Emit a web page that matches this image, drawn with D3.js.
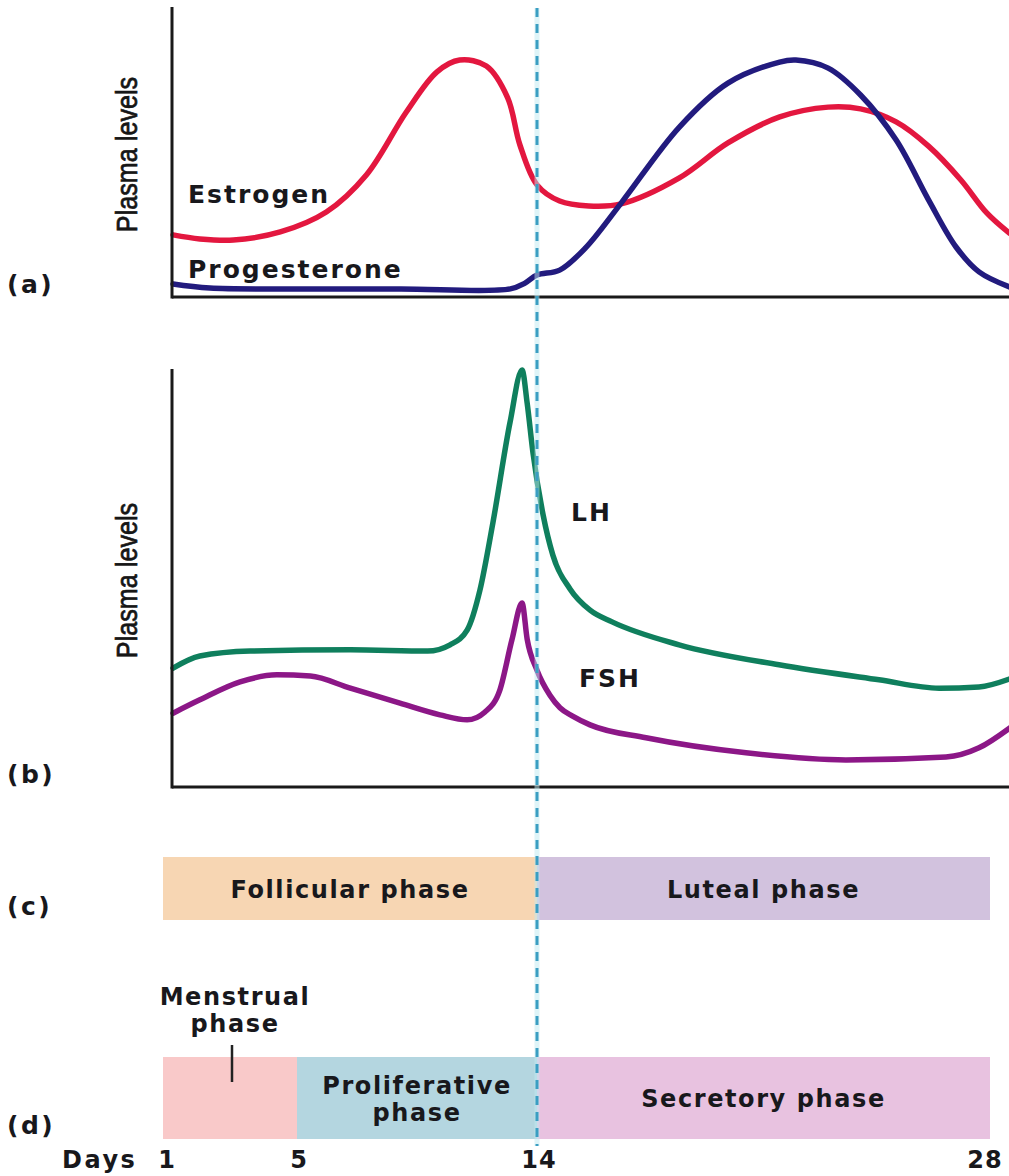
<!DOCTYPE html>
<html>
<head>
<meta charset="utf-8">
<script src="https://cdn.jsdelivr.net/npm/d3@7"></script>
<style>
	body { margin: 0; background: #fff; }
	svg { display: block; }
</style>
</head>
<body>
<div id="d3"></div>
<script>

// day ticks along the bottom
const dayTicks = [1, 5, 14, 28];
const ovulationDay = 14;

// panel (a): ovarian hormones, [day, relative level 0-100]
const estrogen = [
	[1.3, 21.5], [2.1, 20.1], [3.1, 19.7], [4.5, 22.5], [6.1, 29.4], [7.6, 42.2],
	[9.1, 64.0], [10.25, 77.9], [11.1, 82.0], [12.1, 79.9], [12.9, 68.9], [13.36, 52.6],
	[14.0, 38.8], [14.7, 33.2], [15.6, 31.5], [16.6, 32.2], [18.4, 41.2], [19.9, 53.3],
	[21.5, 62.3], [23.0, 65.7], [24.0, 65.1], [25.1, 60.6], [26.1, 52.2], [27.1, 40.5],
	[27.9, 29.1], [28.6, 22.1]
];
const progesterone = [
	[1.3, 4.5], [2.4, 3.1], [5.1, 2.8], [8.9, 2.8], [13.0, 2.8], [13.55, 4.8],
	[14.0, 7.6], [14.7, 9.3], [15.5, 17.0], [16.6, 32.5], [18.4, 58.8], [19.9, 74.0],
	[21.5, 81.3], [22.0, 82.0], [23.0, 79.2], [24.0, 69.9], [25.1, 54.3], [26.1, 33.6],
	[26.95, 17.3], [27.66, 8.7], [28.6, 3.5]
];

// panel (b): pituitary hormones
const lh = [
	[1.3, 28.5], [2.1, 31.4], [3.6, 32.6], [7.0, 32.9], [9.9, 32.6], [10.74, 34.1],
	[11.38, 37.6], [11.86, 47.2], [12.35, 63.5], [12.99, 87.5], [13.44, 100], [13.63, 92.1],
	[13.85, 80.1], [14.19, 65.2], [14.49, 55.6], [15.02, 47.5], [15.64, 42.4], [16.32, 39.6],
	[18.39, 34.1], [21.48, 29.3], [24.57, 25.7], [26.43, 23.7], [27.66, 24.0], [28.6, 25.9]
];
const fsh = [
	[1.3, 17.7], [2.1, 20.9], [3.3, 25.2], [4.4, 26.9], [5.5, 26.6], [7.0, 23.7],
	[8.86, 20.1], [10.36, 17.3], [11.38, 16.1], [12.05, 18.0], [12.61, 23.3], [13.06, 35.3],
	[13.44, 44.1], [13.63, 35.5], [14.0, 28.0], [14.4, 22.0], [14.71, 19.0], [15.1, 17.0],
	[15.64, 14.9], [17.37, 11.8], [20.46, 8.2], [23.55, 6.5], [26.64, 7.2], [27.66, 9.4],
	[28.6, 14.1]
];

// panels (c) and (d): phase bands
const ovarianPhases = [
	{ name: ["Follicular phase"], start: 1, end: 14 },
	{ name: ["Luteal phase"], start: 14, end: 28 }
];
const uterinePhases = [
	{ name: [], start: 1, end: 5 },
	{ name: ["Proliferative", "phase"], start: 5, end: 14 },
	{ name: ["Secretory phase"], start: 14, end: 28 }
];
const menstrualLabel = ["Menstrual", "phase"];
const menstrualDay = 3;

plot(1009, 1176);

function plot(width, height)
{
	"use strict";

	let svg = d3.select("#d3").append("svg")
		.attr("width", width)
		.attr("height", height);

	let boldFont = "'DejaVu Sans', sans-serif";
	let ink = "#18181c";

	// the day axis is not evenly spaced in the figure
	let x = d3.scaleLinear()
		.domain(dayTicks)
		.range([163, 297, 537, 990]);

	let yA = d3.scaleLinear().domain([0, 100]).range([297, 8]);
	let yB = d3.scaleLinear().domain([0, 100]).range([787, 370]);

	let axisLeft = 172;

	let ovarianColor = d3.scaleOrdinal()
		.domain(ovarianPhases.map(function(d) { return d.start; }))
		.range(["#f7d6b3", "#d2c2de"]);
	let uterineColor = d3.scaleOrdinal()
		.domain(uterinePhases.map(function(d) { return d.start; }))
		.range(["#f9c9c9", "#b4d6e0", "#e8c2e0"]);

	/////////////////////////////////////////////////////////////////////////////////
	// line panels

	function linePanel(y, series, label, curve) {
		let g = svg.append("g");

		let line = d3.line()
			.x(function(d) { return x(d[0]); })
			.y(function(d) { return y(d[1]); })
			.curve(curve);

		g.selectAll("path.series")
			.data(series)
			.enter()
			.append("path")
			.attr("class", "series")
			.attr("d", function(d) { return line(d.values); })
			.attr("fill", "none")
			.attr("stroke", function(d) { return d.color; })
			.attr("stroke-width", 5.5)
			.attr("stroke-linejoin", "round")
			.attr("stroke-linecap", "round");

		// axes are bare lines, no ticks
		g.append("line")
			.attr("x1", axisLeft).attr("x2", axisLeft)
			.attr("y1", y(100) - 1).attr("y2", y(0) + 1.5)
			.attr("stroke", "#1a1a1a")
			.attr("stroke-width", 3);
		g.append("line")
			.attr("x1", axisLeft).attr("x2", width)
			.attr("y1", y(0)).attr("y2", y(0))
			.attr("stroke", "#1a1a1a")
			.attr("stroke-width", 3);

		// rotated, condensed y label
		let mid = (y(0) + y(100)) / 2;
		g.append("text")
			.attr("transform", "translate(137," + (mid + 2) + ") rotate(-90) scale(0.84,1)")
			.style("text-anchor", "middle")
			.style("font-family", "'Liberation Sans', Arial, sans-serif")
			.style("font-size", "30px")
			.style("fill", "#161616")
			.style("stroke", "#161616")
			.style("stroke-width", 0.7)
			.text("Plasma levels");

		g.append("text")
			.attr("x", 7)
			.attr("y", y(0) - 4)
			.style("font-family", boldFont)
			.style("font-weight", "bold")
			.style("font-size", "25px")
			.style("letter-spacing", "2.5px")
			.style("fill", ink)
			.text(label);

		return g;
	}

	let panelA = linePanel(yA, [
		{ values: estrogen, color: "#e3173f" },
		{ values: progesterone, color: "#221b7e" }
	], "(a)", d3.curveCatmullRom.alpha(0.5));

	let panelB = linePanel(yB, [
		{ values: lh, color: "#0f7f5d" },
		{ values: fsh, color: "#8c1787" }
	], "(b)", d3.curveMonotoneX);

	function seriesLabel(g, px, py, txt) {
		g.append("text")
			.attr("x", px)
			.attr("y", py)
			.style("font-family", boldFont)
			.style("font-weight", "bold")
			.style("font-size", "25px")
			.style("letter-spacing", "2px")
			.style("fill", ink)
			.text(txt);
	}
	seriesLabel(panelA, 188, 203, "Estrogen");
	seriesLabel(panelA, 188, 278, "Progesterone");
	seriesLabel(panelB, 571, 521, "LH");
	seriesLabel(panelB, 579, 687, "FSH");

	/////////////////////////////////////////////////////////////////////////////////
	// phase bands

	let phaseStyle = function(sel) {
		sel.style("text-anchor", "middle")
			.style("font-family", boldFont)
			.style("font-weight", "bold")
			.style("font-size", "24px")
			.style("letter-spacing", "1.6px")
			.style("fill", ink);
	};

	function phaseBand(phases, color, top, bottom, label) {
		let g = svg.append("g");
		let bands = g.selectAll("g.band")
			.data(phases)
			.enter()
			.append("g")
			.attr("class", "band");

		bands.append("rect")
			.attr("x", function(d) { return x(d.start); })
			.attr("y", top)
			.attr("width", function(d) { return x(d.end) - x(d.start); })
			.attr("height", bottom - top)
			.attr("fill", function(d) { return color(d.start); });

		bands.each(function(d) {
			let cx = (x(d.start) + x(d.end)) / 2,
				lineH = 27,
				first = (top + bottom) / 2 + 9 - (d.name.length - 1) * lineH / 2;
			d3.select(this).selectAll("text")
				.data(d.name)
				.enter()
				.append("text")
				.attr("x", cx)
				.attr("y", function(t, i) { return first + i * lineH; })
				.call(phaseStyle)
				.text(function(t) { return t; });
		});

		g.append("text")
			.attr("x", 7)
			.attr("y", bottom - 5)
			.style("font-family", boldFont)
			.style("font-weight", "bold")
			.style("font-size", "25px")
			.style("letter-spacing", "2.5px")
			.style("fill", ink)
			.text(label);
		return g;
	}

	phaseBand(ovarianPhases, ovarianColor, 857, 920, "(c)");
	let bandD = phaseBand(uterinePhases, uterineColor, 1057, 1139, "(d)");

	// menstrual phase callout
	bandD.selectAll("text.menstrual")
		.data(menstrualLabel)
		.enter()
		.append("text")
		.attr("class", "menstrual")
		.attr("x", x(menstrualDay) + 5)
		.attr("y", function(t, i) { return 1005 + i * 27; })
		.call(phaseStyle)
		.text(function(t) { return t; });
	bandD.append("line")
		.attr("x1", x(menstrualDay) + 2).attr("x2", x(menstrualDay) + 2)
		.attr("y1", 1045).attr("y2", 1082)
		.attr("stroke", "#222")
		.attr("stroke-width", 2.5);

	// day ticks
	let dayAxis = svg.append("g");
	dayAxis.append("text")
		.attr("x", 62)
		.attr("y", 1168)
		.style("font-family", boldFont)
		.style("font-weight", "bold")
		.style("font-size", "24px")
		.style("letter-spacing", "2.5px")
		.style("fill", ink)
		.text("Days");
	dayAxis.selectAll("text.day")
		.data(dayTicks)
		.enter()
		.append("text")
		.attr("class", "day")
		.attr("x", function(d) { return x(d) + (d == 28 ? -5 : d == 1 ? 4 : 2); })
		.attr("y", 1168)
		.style("text-anchor", "middle")
		.style("font-family", boldFont)
		.style("font-weight", "bold")
		.style("font-size", "24px")
		.style("letter-spacing", "1px")
		.style("fill", ink)
		.text(function(d) { return d; });

	// ovulation marker across every panel
	svg.append("line")
		.attr("x1", x(ovulationDay)).attr("x2", x(ovulationDay))
		.attr("y1", 8).attr("y2", 1146)
		.attr("stroke", "#bfeaf2")
		.attr("stroke-width", 5)
		.attr("opacity", 0.5);
	svg.append("line")
		.attr("x1", x(ovulationDay)).attr("x2", x(ovulationDay))
		.attr("y1", 8).attr("y2", 1146)
		.attr("stroke", "#3a9ec2")
		.attr("stroke-width", 3)
		.attr("stroke-dasharray", "9,7");
}
</script>
</body>
</html>
